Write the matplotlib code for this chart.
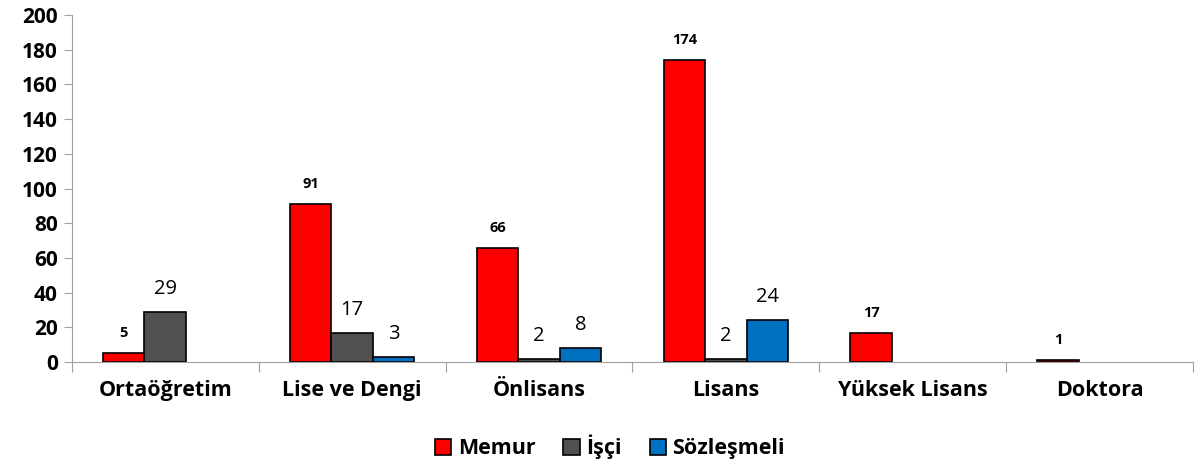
import numpy as np
import matplotlib.pyplot as plt

plt.rcParams['font.family'] = ['Open Sans', 'DejaVu Sans']

categories = ['Ortaöğretim', 'Lise ve Dengi', 'Önlisans', 'Lisans', 'Yüksek Lisans', 'Doktora']
memur = [5, 91, 66, 174, 17, 1]
isci = [29, 17, 2, 2, 0, 0]
sozlesmeli = [0, 3, 8, 24, 0, 0]

fig = plt.figure(figsize=(11.96, 4.69), dpi=100)
ax = fig.add_axes([0.060, 0.228, 0.9375, 0.74])

x = np.arange(len(categories))
w = 0.222
series = [
    ('Memur', memur, '#FF0000', dict(fontsize=10.5, fontweight='bold'), 20),
    ('İşçi', isci, '#505050', dict(fontsize=14.5), 23),
    ('Sözleşmeli', sozlesmeli, '#0070C0', dict(fontsize=14.5), 23),
]
for i, (name, vals, col, fnt, off) in enumerate(series):
    pos = x + (i - 1) * w
    vals = np.array(vals)
    keep = vals > 0
    ax.bar(pos[keep], vals[keep], w, color=col, edgecolor='black', linewidth=1.2, label=name)
    for p, v in zip(pos[keep], vals[keep]):
        ax.annotate(str(v), (p, v), xytext=(0, off), textcoords='offset pixels',
                    ha='center', va='center', **fnt)

ax.set_xlim(-0.5, len(categories) - 0.5)
ax.set_ylim(0, 200)
ax.set_yticks(range(0, 201, 20))
ax.set_xticks(np.arange(len(categories) + 1) - 0.5, minor=False)
ax.set_xticklabels([])
ax.set_xticks(x, minor=True)
ax.set_xticklabels(categories, minor=True, fontsize=15.5, fontweight='bold')
ax.tick_params(axis='x', which='minor', length=0, pad=13)
ax.tick_params(axis='x', which='major', length=7, color='#A0A0A0', direction='out')
ax.tick_params(axis='y', length=6, color='#A0A0A0', labelsize=15, pad=4)
for lbl in ax.get_yticklabels():
    lbl.set_fontweight('bold')
for s in ['top', 'right']:
    ax.spines[s].set_visible(False)
for s in ['left', 'bottom']:
    ax.spines[s].set_color('#A0A0A0')

leg = fig.legend(loc='center', bbox_to_anchor=(0.51, 0.047), ncol=3, frameon=False,
                 prop=dict(size=15.5, weight='bold'), handlelength=0.75, handleheight=0.75,
                 handletextpad=0.3, columnspacing=1.3)

fig.savefig('out.png', dpi=100)
